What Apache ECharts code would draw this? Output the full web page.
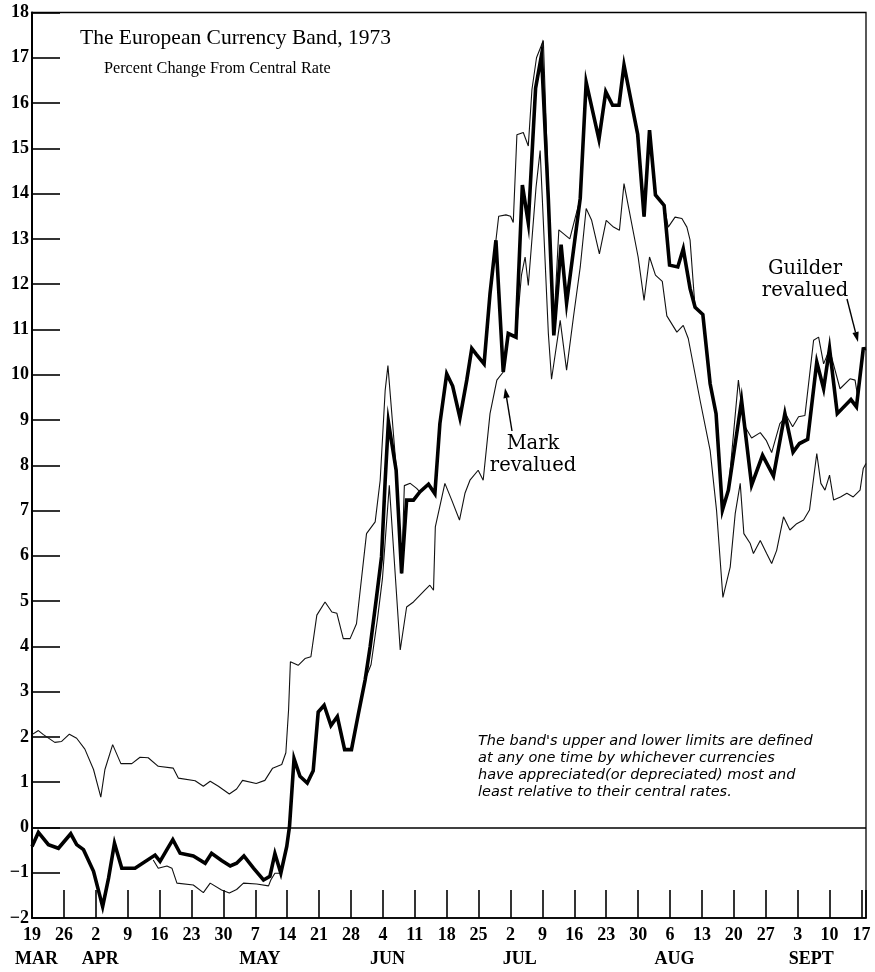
<!DOCTYPE html>
<html>
<head>
<meta charset="utf-8">
<script src="https://cdn.jsdelivr.net/npm/echarts/dist/echarts.min.js"></script>
<style>
html,body{margin:0;padding:0;background:#fff;}
#chart{width:875px;height:972px;}
</style>
</head>
<body>
<div id="chart"></div>
<script>
// ---- tick labels ----
const weekLabels = ['19','26','2','9','16','23','30','7','14','21','28','4','11','18','25','2','9','16','23','30','6','13','20','27','3','10','17'];
const monthLabels = [[1,'MAR'],[15,'APR'],[50,'MAY'],[78,'JUN'],[107,'JUL'],[141,'AUG'],[171,'SEPT']];

// ---- series values: [days since 19 Mar 1973, percent change from central rate] ----
const thickLine = [
[0,-0.42],[1.4,-0.11],[3.6,-0.38],[5.8,-0.46],[8.5,-0.14],[9.8,-0.38],[11.3,-0.49],[13.5,-0.97],[15.5,-1.75],[16.8,-1.12],[18.1,-0.35],[19.7,-0.9],[22.6,-0.9],[27,-0.61],[28.1,-0.75],[29.6,-0.49],[30.9,-0.27],[32.5,-0.57],[35.4,-0.63],[38,-0.79],[39.4,-0.57],[41.6,-0.73],[43.5,-0.85],[44.9,-0.79],[46.5,-0.63],[48.6,-0.9],[50.8,-1.16],[52.2,-1.08],[53.3,-0.58],[54.6,-1.01],[55.9,-0.42],[56.5,0.02],[57.5,1.52],[58.8,1.13],[60.4,0.98],[61.7,1.25],[62.8,2.55],[64.1,2.7],[65.6,2.25],[67,2.45],[68.6,1.72],[70.1,1.72],[71.6,2.5],[73.1,3.26],[74.2,3.99],[75.6,5.09],[76.7,5.98],[77.5,7.67],[78.2,8.96],[79.9,7.89],[81.1,5.61],[82.2,7.23],[83.7,7.23],[85.1,7.41],[87,7.58],[88.4,7.37],[89.5,8.92],[91,10.02],[92.3,9.75],[93.9,9.05],[95.4,9.88],[96.5,10.58],[97.5,10.45],[99.2,10.24],[100.5,11.79],[101.8,12.97],[103.4,10.06],[104.5,10.91],[106.2,10.83],[107.6,14.19],[108.9,13.35],[110.5,16.33],[111.8,17.06],[113.3,13.87],[114.5,10.87],[116.1,12.87],[117.3,11.58],[120.3,13.9],[121.6,16.46],[124.4,15.2],[125.9,16.25],[127.4,15.95],[128.8,15.95],[129.9,16.84],[132.9,15.31],[134.3,13.49],[135.5,15.4],[136.8,13.97],[138.7,13.74],[139.9,12.42],[141.7,12.38],[142.9,12.78],[144.4,11.9],[145.5,11.49],[147.2,11.33],[148.8,9.8],[150.1,9.14],[151.5,7.01],[152.8,7.45],[155.7,9.43],[157.9,7.56],[160.3,8.22],[162.7,7.76],[165.2,9.14],[167,8.29],[168.4,8.48],[170.2,8.57],[172.2,10.28],[173.7,9.69],[175,10.58],[176.7,9.14],[179.7,9.45],[180.9,9.29],[182.4,10.57],[183,10.58]
];
const upperLimit = [
[0,2.05],[1.4,2.14],[2.5,2.05],[5,1.88],[6.5,1.9],[8.2,2.06],[9.8,1.97],[11.6,1.73],[13.5,1.28],[15.1,0.67],[16,1.28],[17.7,1.83],[19.5,1.41],[21.9,1.41],[23.7,1.55],[25.5,1.54],[27.7,1.35],[31,1.31],[32.1,1.09],[35.8,1.03],[37.6,0.91],[39.1,1.02],[40.9,0.91],[43.3,0.74],[44.9,0.85],[46.2,1.04],[49.2,0.97],[51.1,1.04],[52.8,1.31],[54.8,1.39],[55.7,1.65],[56.3,2.6],[56.7,3.66],[58.4,3.58],[59.9,3.73],[61.2,3.77],[62.5,4.69],[64.3,4.98],[65.8,4.76],[66.9,4.73],[68.3,4.17],[69.8,4.17],[71.2,4.5],[73.4,6.49],[75.3,6.75],[76.4,7.67],[77.5,9.66],[78.1,10.2],[79.9,7.95],[81.1,5.61],[81.7,7.55],[83,7.6],[84.4,7.49],[85.1,7.41],[87,7.58],[88.4,7.37],[89.5,8.92],[91,10.02],[92.3,9.75],[93.9,9.05],[95.4,9.88],[96.5,10.58],[97.5,10.45],[99.2,10.24],[100.5,11.79],[101.8,12.97],[102.4,13.5],[104,13.53],[105,13.5],[105.6,13.36],[106.4,15.3],[107.8,15.35],[108.9,15.05],[109.7,16.3],[110.7,17.0],[112.2,17.38],[114.4,10.9],[115.6,13.2],[118,13.0],[120.3,13.9],[121.6,16.46],[124.4,15.2],[125.9,16.25],[127.4,15.95],[128.8,15.95],[129.9,16.84],[132.9,15.31],[134.3,13.49],[135.5,15.4],[136.8,13.97],[138.7,13.74],[139.6,13.26],[141.1,13.48],[142.6,13.45],[143.7,13.26],[144.4,12.97],[145.1,12.01],[145.5,11.49],[147.2,11.33],[148.8,9.8],[150.1,9.14],[151.5,7.01],[152.8,7.45],[155,9.88],[156.2,8.9],[157.9,8.6],[159.8,8.72],[161.1,8.55],[162.3,8.28],[164.1,8.92],[165.6,9.09],[166.9,8.85],[168.2,9.07],[169.6,9.1],[171.5,10.76],[172.6,10.83],[173.7,10.24],[175,10.56],[177.3,9.69],[179.5,9.91],[180.6,9.88],[181.2,9.5],[182.4,10.57],[183,10.58]
];
const lowerSpring = [
[26.6,-0.72],[27.7,-0.9],[29.6,-0.85],[30.7,-0.9],[31.8,-1.23],[35.4,-1.27],[37.6,-1.44],[39.1,-1.23],[41.6,-1.38],[43.3,-1.45],[44.9,-1.37],[46.4,-1.23],[49.3,-1.25],[51.9,-1.29],[52.4,-1.16],[53.3,-1.01],[54.6,-1.01]
];
const lowerSummer = [
[73.1,3.26],[74.4,3.6],[75.8,4.6],[76.9,5.5],[77.7,6.6],[78.4,7.56],[80.8,3.92],[82.2,4.87],[83.7,4.98],[86.2,5.24],[87.3,5.35],[88.1,5.24],[88.5,6.64],[90.6,7.6],[92.1,7.23],[93.8,6.79],[95,7.38],[96.1,7.67],[97.9,7.89],[99,7.67],[100.5,9.14],[102,9.88],[103.4,10.06],[104.5,10.91],[106.2,10.83],[107.4,12.2],[108.2,12.6],[108.9,11.97],[110.6,14.14],[111.5,14.95],[113.3,10.91],[114,9.9],[115.9,11.2],[117.3,10.1],[118.8,11.27],[120.3,12.38],[121.6,13.67],[122.8,13.41],[124.5,12.67],[126,13.41],[127.6,13.26],[128.9,13.19],[129.9,14.22],[133,12.6],[134.3,11.64],[135.5,12.6],[136.8,12.2],[138.3,12.06],[139.3,11.3],[141.5,10.94],[142.9,11.09],[144,10.8],[146.6,9.43],[148.8,8.33],[150.2,7.01],[151.6,5.08],[153.2,5.75],[154.3,6.93],[155.4,7.6],[156.2,6.49],[157.6,6.27],[158.3,6.05],[159.8,6.34],[161.2,6.05],[162.3,5.83],[163.4,6.12],[164.9,6.86],[166.3,6.57],[167.8,6.71],[169.3,6.79],[170.6,7.01],[172.2,8.26],[173.1,7.6],[174,7.45],[175,7.78],[175.9,7.23],[177.4,7.3],[178.8,7.38],[180.2,7.3],[181.7,7.45],[182.4,7.93],[183,8.04]
];

const monthMap = {};
monthLabels.forEach(m => { monthMap[m[0]] = m[1]; });

const serif = '"Liberation Serif", "Times New Roman", serif';
const annoSerif = '"DejaVu Serif", serif';

function arrow(x1, y1, x2, y2) {
  const dx = x2 - x1, dy = y2 - y1, L = Math.sqrt(dx*dx + dy*dy);
  const ux = dx / L, uy = dy / L, hl = 10, hw = 3.2;
  const bx = x2 - ux*hl, by = y2 - uy*hl;
  return [
    {type:'line', shape:{x1:x1, y1:y1, x2:bx, y2:by}, style:{stroke:'#000', lineWidth:1.4}},
    {type:'polygon', shape:{points:[[x2,y2],[bx - uy*hw, by + ux*hw],[bx + uy*hw, by - ux*hw]]}, style:{fill:'#000'}}
  ];
}

const chart = echarts.init(document.getElementById('chart'), null, {renderer:'canvas'});

const thinStyle = {color:'#111', width:1.1};

const option = {
  backgroundColor:'#fff',
  animation:false,
  title:[
    {text:'The European Currency Band, 1973', left:80, top:27, padding:0, textStyle:{fontFamily:serif, fontSize:21.5, fontWeight:'normal', color:'#000'}},
    {text:'Percent Change From Central Rate', left:104, top:61, padding:0, textStyle:{fontFamily:serif, fontSize:16.2, fontWeight:'normal', color:'#000'}}
  ],
  grid:{left:32, right:9, top:12.5, bottom:54, show:true, borderColor:'#000', borderWidth:1.3, backgroundColor:'transparent', containLabel:false, outerBoundsMode:'none'},
  xAxis:[
    {type:'value', min:0, max:183, interval:7, position:'bottom',
     axisLine:{show:true, onZero:false, lineStyle:{color:'#000', width:1.6}},
     axisTick:{show:true, inside:true, length:28, lineStyle:{color:'#000', width:1.6}},
     splitLine:{show:false},
     axisLabel:{show:true, margin:8, hideOverlap:false, showMaxLabel:true, showMinLabel:true, color:'#000', fontFamily:serif, fontSize:18, fontWeight:'bold',
       formatter:function(v){ return (v % 7 === 0 && weekLabels[v/7] !== undefined) ? weekLabels[v/7] : ''; }}
    },
    {type:'value', min:0, max:183, interval:1, position:'bottom',
     axisLine:{show:false}, axisTick:{show:false}, splitLine:{show:false},
     axisLabel:{show:true, margin:32, hideOverlap:false, color:'#000', fontFamily:serif, fontSize:18, fontWeight:'bold',
       formatter:function(v){ return monthMap[v] || ''; }}
    }
  ],
  yAxis:{type:'value', min:-2, max:18, interval:1,
    axisLine:{show:true, onZero:false, lineStyle:{color:'#000', width:2}},
    axisTick:{show:true, inside:true, length:28, lineStyle:{color:'#000', width:1.6}},
    splitLine:{show:false},
    axisLabel:{show:true, margin:3, hideOverlap:false, color:'#000', fontFamily:serif, fontSize:18, fontWeight:'bold',
      formatter:function(v){ return v < 0 ? '\u2212' + (-v) : String(v); }}
  },
  series:[
    {type:'line', name:'upper', data:upperLimit, xAxisIndex:0, symbol:'none', showSymbol:false, lineStyle:thinStyle, z:3, silent:true},
    {type:'line', name:'lowerSpring', data:lowerSpring, xAxisIndex:0, symbol:'none', showSymbol:false, lineStyle:thinStyle, z:3, silent:true},
    {type:'line', name:'lowerSummer', data:lowerSummer, xAxisIndex:0, symbol:'none', showSymbol:false, lineStyle:thinStyle, z:3, silent:true},
    {type:'line', name:'thick', data:thickLine, xAxisIndex:0, symbol:'none', showSymbol:false, lineStyle:{color:'#000', width:3.6, join:'miter'}, z:4, silent:true,
     markLine:{silent:true, symbol:['none','none'], label:{show:false}, lineStyle:{color:'#000', width:1.6, type:'solid'}, data:[{yAxis:0}]}}
  ],
  graphic:[
    {type:'text', x:478, y:733, style:{text:"The band's upper and lower limits are defined\nat any one time by whichever currencies\nhave appreciated(or depreciated) most and\nleast relative to their central rates.", font:'oblique 14.5px "DejaVu Sans"', fill:'#000', lineHeight:17, textVerticalAlign:'top'}},
    {type:'text', x:533, y:444, style:{text:'Mark', font:'19.5px ' + annoSerif, fill:'#000', textAlign:'center', textVerticalAlign:'middle'}},
    {type:'text', x:533, y:466, style:{text:'revalued', font:'19.5px ' + annoSerif, fill:'#000', textAlign:'center', textVerticalAlign:'middle'}},
    {type:'text', x:805, y:269, style:{text:'Guilder', font:'19.5px ' + annoSerif, fill:'#000', textAlign:'center', textVerticalAlign:'middle'}},
    {type:'text', x:805, y:291, style:{text:'revalued', font:'19.5px ' + annoSerif, fill:'#000', textAlign:'center', textVerticalAlign:'middle'}}
  ].concat(arrow(512, 431, 505, 388)).concat(arrow(847, 299, 858, 342))
};

chart.setOption(option);
</script>
</body>
</html>
